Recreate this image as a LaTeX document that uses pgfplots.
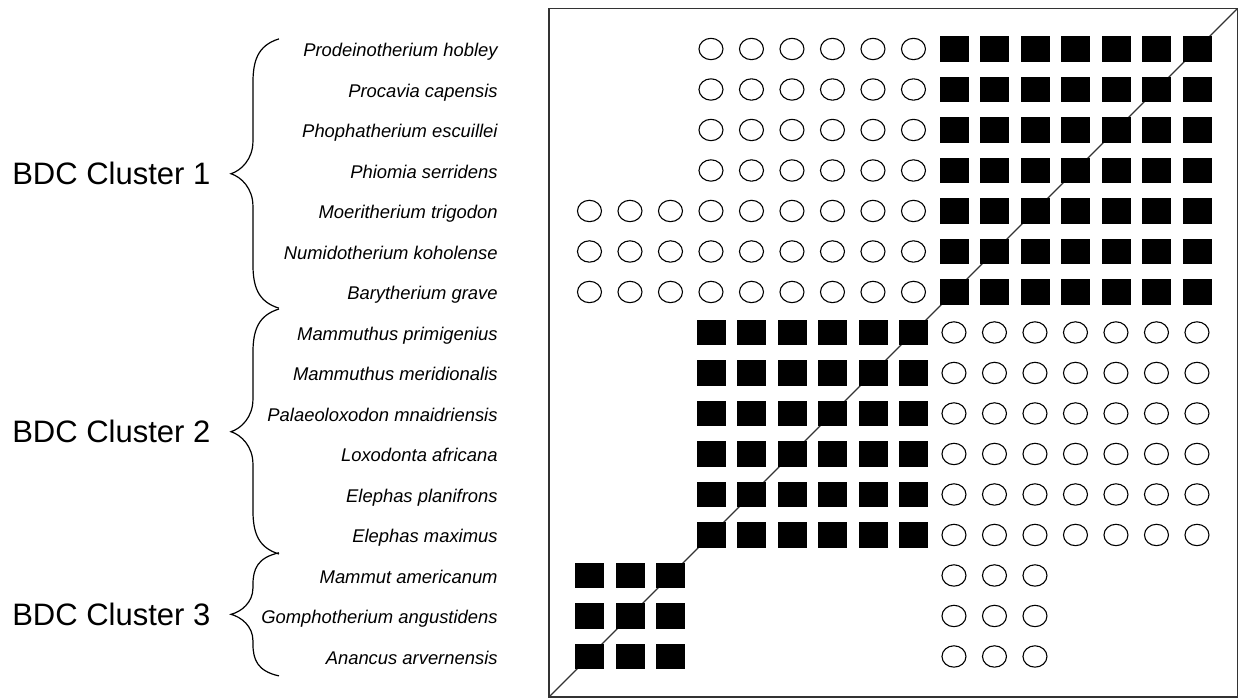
\documentclass[border=0pt]{standalone}
\usepackage{fontspec}
\setmainfont{Liberation Sans}
\usepackage{pgfplots}
\pgfplotsset{compat=1.18}

% brace: #1 top, #2 bottom, #3 middle, #4 end curve, #5 tip curve, #6 label
\newcommand{\clusterbrace}[6]{%
  \draw[line width=0.6bp, black]
    (axis cs:-6.667,#1) .. controls (axis cs:-7.2,{#1-0.15*#4}) and (axis cs:-7.31,{#1-0.5*#4}) .. (axis cs:-7.31,{#1-#4})
    -- (axis cs:-7.31,{#3+#5}) .. controls (axis cs:-7.31,{#3+0.45*#5}) and (axis cs:-7.6,{#3+0.1*#5}) .. (axis cs:-7.852,#3)
    .. controls (axis cs:-7.6,{#3-0.1*#5}) and (axis cs:-7.31,{#3-0.45*#5}) .. (axis cs:-7.31,{#3-#5})
    -- (axis cs:-7.31,{#2+#4}) .. controls (axis cs:-7.31,{#2+0.5*#4}) and (axis cs:-7.2,{#2+0.15*#4}) .. (axis cs:-6.667,#2);
  \node[anchor=east, inner sep=0pt, font=\fontsize{15.5bp}{18bp}\selectfont] at (axis cs:-8.35,#3) {#6};
}

\begin{document}
\begin{tikzpicture}
\begin{axis}[
    scale only axis,
    width=344.25bp, height=344.25bp,
    xmin=0, xmax=17, ymin=0, ymax=17,
    clip=false,
    axis line style={black!80, line width=0.6bp},
    xtick=\empty,
    ytick={1,...,16},
    major tick length=0pt,
    yticklabels={Anancus arvernensis, Gomphotherium angustidens, Mammut americanum,
        Elephas maximus, Elephas planifrons, Loxodonta africana,
        Palaeoloxodon mnaidriensis, Mammuthus meridionalis, Mammuthus primigenius,
        Barytherium grave, Numidotherium koholense, Moeritherium trigodon,
        Phiomia serridens, Phophatherium escuillei, Procavia capensis,
        Prodeinotherium hobley},
    yticklabel style={anchor=base east, inner sep=0pt, xshift=-25.5bp, yshift=-4bp,
        font=\fontsize{9.2bp}{11bp}\selectfont\itshape},
]
% diagonal
\addplot[black!80, line width=0.6bp] coordinates {(0,0) (17,17)};

% filled squares
\addplot[only marks, mark=square*, mark size=7bp,
    mark options={fill=black, draw=black, yscale=0.88}] coordinates {
(10,16) (11,16) (12,16) (13,16) (14,16) (15,16) (16,16)
(10,15) (11,15) (12,15) (13,15) (14,15) (15,15) (16,15)
(10,14) (11,14) (12,14) (13,14) (14,14) (15,14) (16,14)
(10,13) (11,13) (12,13) (13,13) (14,13) (15,13) (16,13)
(10,12) (11,12) (12,12) (13,12) (14,12) (15,12) (16,12)
(10,11) (11,11) (12,11) (13,11) (14,11) (15,11) (16,11)
(10,10) (11,10) (12,10) (13,10) (14,10) (15,10) (16,10)
(4,9) (5,9) (6,9) (7,9) (8,9) (9,9)
(4,8) (5,8) (6,8) (7,8) (8,8) (9,8)
(4,7) (5,7) (6,7) (7,7) (8,7) (9,7)
(4,6) (5,6) (6,6) (7,6) (8,6) (9,6)
(4,5) (5,5) (6,5) (7,5) (8,5) (9,5)
(4,4) (5,4) (6,4) (7,4) (8,4) (9,4)
(1,3) (2,3) (3,3)
(1,2) (2,2) (3,2)
(1,1) (2,1) (3,1)
};

% open circles
\addplot[only marks, mark=o, mark size=6bp,
    mark options={draw=black, fill=white, line width=0.55bp, yscale=0.89}] coordinates {
(4,16) (5,16) (6,16) (7,16) (8,16) (9,16)
(4,15) (5,15) (6,15) (7,15) (8,15) (9,15)
(4,14) (5,14) (6,14) (7,14) (8,14) (9,14)
(4,13) (5,13) (6,13) (7,13) (8,13) (9,13)
(1,12) (2,12) (3,12) (4,12) (5,12) (6,12) (7,12) (8,12) (9,12)
(1,11) (2,11) (3,11) (4,11) (5,11) (6,11) (7,11) (8,11) (9,11)
(1,10) (2,10) (3,10) (4,10) (5,10) (6,10) (7,10) (8,10) (9,10)
(10,9) (11,9) (12,9) (13,9) (14,9) (15,9) (16,9)
(10,8) (11,8) (12,8) (13,8) (14,8) (15,8) (16,8)
(10,7) (11,7) (12,7) (13,7) (14,7) (15,7) (16,7)
(10,6) (11,6) (12,6) (13,6) (14,6) (15,6) (16,6)
(10,5) (11,5) (12,5) (13,5) (14,5) (15,5) (16,5)
(10,4) (11,4) (12,4) (13,4) (14,4) (15,4) (16,4)
(10,3) (11,3) (12,3)
(10,2) (11,2) (12,2)
(10,1) (11,1) (12,1)
};

\clusterbrace{16.25}{9.6}{12.92}{1.1}{0.8}{BDC Cluster 1}
\clusterbrace{9.58}{3.53}{6.55}{1.1}{0.8}{BDC Cluster 2}
\clusterbrace{3.56}{0.52}{2.04}{0.8}{0.65}{BDC Cluster 3}

% page extent as in the reference
\path (axis cs:-13.556,0) rectangle (axis cs:17.26,17.21);
\end{axis}
\end{tikzpicture}
\end{document}
